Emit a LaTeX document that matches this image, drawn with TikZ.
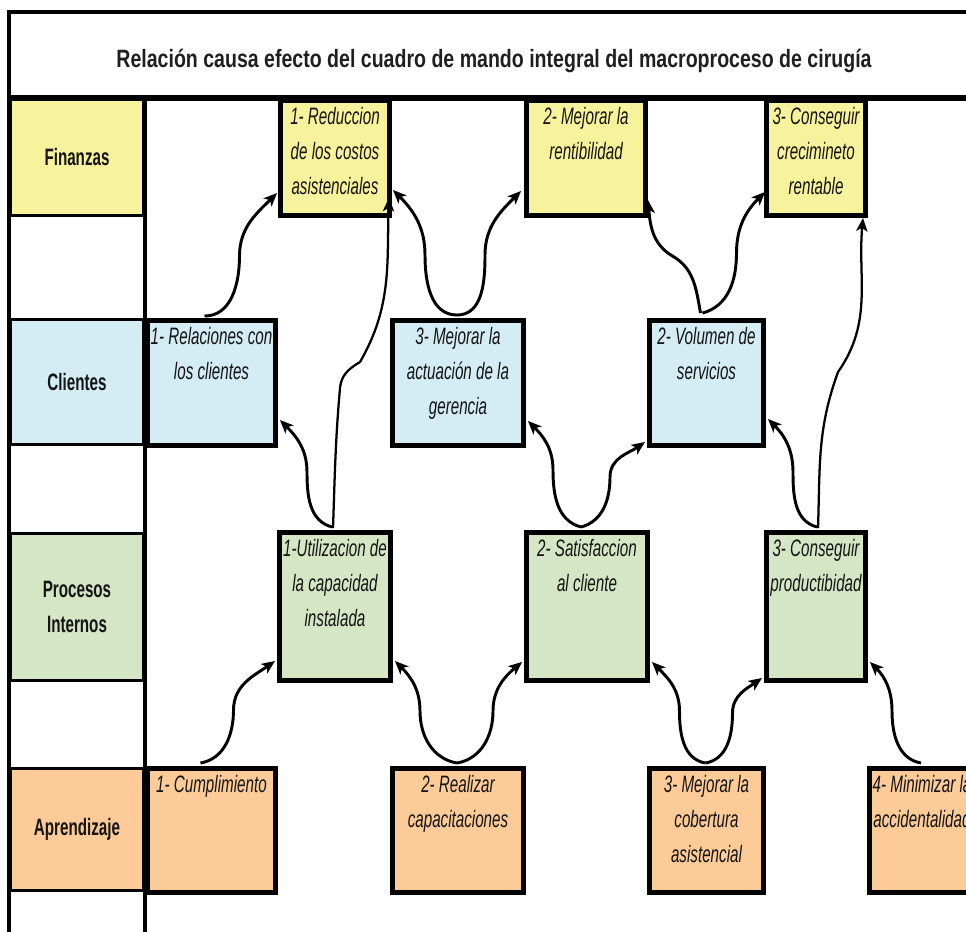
\documentclass[tikz,border=0pt]{standalone}
\usepackage{fontspec}
\setmainfont{Liberation Sans}[FakeStretch=0.64]
\newfontfamily\titlefont{Liberation Sans}[FakeStretch=0.78]
\usetikzlibrary{arrows.meta,calc}
\definecolor{cyel}{HTML}{F7F39C}
\definecolor{cblu}{HTML}{D4ECF3}
\definecolor{cgrn}{HTML}{D5E6C5}
\definecolor{corg}{HTML}{FCCB98}
\definecolor{ink}{HTML}{151515}
\newcommand\mkgoal[7]{%
  \node[gbox, fill=#6, minimum width={(#4-#2-5)*0.75pt}, minimum height={(#5-#3-5)*0.75pt}] (#1) at ({(#2+#4)/2},{(#3+#5)/2}) {};
  \node[gtext, anchor=north] (#1t) at ($(#1.north)+(0,9)$) {#7};}
\begin{document}
\begin{tikzpicture}[x=0.75pt,y=-0.75pt,
  gbox/.style={draw=black, line width=3.7pt, rectangle, inner sep=0pt},
  gtext/.style={inner sep=0pt, align=center, text=ink, font=\fontsize{17.8}{26.25}\selectfont\itshape},
  lcell/.style={draw=black, line width=2.5pt, rectangle, inner sep=0pt, align=center, text=ink, font=\fontsize{17.8}{26.25}\selectfont\bfseries},
  arr/.style={line width=2.2pt, -{Stealth[length=10pt,width=8.5pt,inset=2.5pt]}},
  longarr/.style={arr, line width=1.7pt},
  frame/.style={line width=3pt}
]
\useasboundingbox (0,0) rectangle (966,931);
\clip (0,0) rectangle (966,931);
\fill[white] (0,0) rectangle (966,931);

% title and frame
\node[anchor=base, inner sep=0pt, text=black!88, font=\titlefont\bfseries\fontsize{18.8}{22}\selectfont] (T) at (494,68) {Relación causa efecto del cuadro de mando integral del macroproceso de cirugía};
\draw[frame] (9,12) -- (1000,12);
\draw[line width=4pt] (9,98) -- (1000,98);
\draw[frame] (9,10.5) -- (9,940);
\draw[frame] (145,96) -- (145,940);

% row labels
\node[lcell, fill=cyel, minimum width={133*0.75pt}, minimum height={116*0.75pt}] (LF) at (77,157.5) {Finanzas};
\node[lcell, fill=cblu, minimum width={133*0.75pt}, minimum height={125*0.75pt}] (LC) at (77,382) {Clientes};
\node[lcell, fill=cgrn, minimum width={133*0.75pt}, minimum height={147*0.75pt}] (LP) at (77,607) {Procesos\\Internos};
\node[lcell, fill=corg, minimum width={133*0.75pt}, minimum height={122*0.75pt}] (LA) at (77,829.5) {Aprendizaje};

% goal boxes
\mkgoal{F1}{278}{98}{392}{218}{cyel}{1- Reduccion\\de los costos\\asistenciales}
\mkgoal{F2}{524}{98}{648}{218}{cyel}{2- Mejorar la\\rentibilidad}
\mkgoal{F3}{764}{98}{868}{218}{cyel}{3- Conseguir\\crecimineto\\rentable}
\mkgoal{C1}{145}{318}{278}{448}{cblu}{1- Relaciones con\\los clientes}
\mkgoal{C2}{390}{318}{526}{448}{cblu}{3- Mejorar la\\actuación de la\\gerencia}
\mkgoal{C3}{647}{318}{766}{448}{cblu}{2- Volumen de\\servicios}
\mkgoal{P1}{277}{530}{393}{683}{cgrn}{1-Utilizacion de\\la capacidad\\instalada}
\mkgoal{P2}{524}{530}{650}{683}{cgrn}{2- Satisfaccion\\al cliente}
\mkgoal{P3}{764}{530}{868}{683}{cgrn}{3- Conseguir\\productibidad}
\mkgoal{A1}{145}{766}{278}{895}{corg}{1- Cumplimiento}
\mkgoal{A2}{390}{766}{526}{895}{corg}{2- Realizar\\capacitaciones}
\mkgoal{A3}{647}{766}{766}{895}{corg}{3- Mejorar la\\cobertura\\asistencial}
\mkgoal{A4}{867}{766}{977}{895}{corg}{4- Minimizar la\\accidentalidad}

% arrows to Finanzas
\draw[arr] ($(C1.north)+(-7,-2)$) to[out=0,in=-90] ++(35,-60) to[out=90,in=-135] ($(F1.south west)+(-1,-25)$);
\draw[longarr] ($(P1.north)+(-2,-2)$) to[out=88,in=-95] ++(7,-140) to[out=85,in=-150] ++(20,-26) to[out=60,in=-92] ($(F1.south east)+(-3,-20)$);
\draw[arr] ($(C2.north)+(-1,-3)$) to[out=180,in=-90] ++(-32,-60) to[out=90,in=-45] ($(F1.south east)+(1,-28)$);
\draw[arr] ($(C2.north)+(-1,-3)$) to[out=0,in=-90] ++(28,-60) to[out=90,in=-135] ($(F2.south west)+(-3,-27)$);
\draw[arr] ($(C3.north)+(-6,-5)$) to[out=100,in=-30] ++(-28,-57) to[out=150,in=-85] ($(F2.south east)+(0,-18)$);
\draw[arr] ($(C3.north)+(-4,-5)$) to[out=15,in=-90] ++(34,-60) to[out=90,in=-135] ($(F3.south west)+(1,-26)$);
\draw[longarr] ($(P3.north)+(2,-2)$) to[out=88,in=-110] ++(20,-156) to[out=55,in=-95] ($(F3.south east)+(-5,0)$);

% arrows to Clientes
\draw[arr] ($(P1.north)+(-3,-3)$) to[out=165,in=-90] ++(-25,-55) to[out=90,in=-45] ($(C1.south east)+(2,-28)$);
\draw[arr] ($(P2.north)+(-6,-3)$) to[out=165,in=-90] ++(-28,-57) to[out=90,in=-45] ($(C2.south east)+(2,-27)$);
\draw[arr] ($(P2.north)+(-6,-3)$) to[out=15,in=-90] ++(29,-50) to[out=90,in=-145] ($(C3.south west)+(-2,-6)$);
\draw[arr] ($(P3.north)+(1,-3)$) to[out=165,in=-90] ++(-24,-55) to[out=90,in=-45] ($(C3.south east)+(2,-29)$);

% arrows to Procesos
\draw[arr] ($(A1.north)+(-11,-3)$) to[out=10,in=-90] ++(33,-53) to[out=90,in=-145] ($(P1.south west)+(-2,-22)$);
\draw[arr] ($(A2.north)+(-1,-3)$) to[out=170,in=-90] ++(-37,-52) to[out=90,in=-45] ($(P1.south east)+(2,-22)$);
\draw[arr] ($(A2.north)+(-1,-3)$) to[out=10,in=-90] ++(36,-52) to[out=90,in=-140] ($(P2.south west)+(-2,-21)$);
\draw[arr] ($(A3.north)+(-1,-3)$) to[out=170,in=-90] ++(-26,-52) to[out=90,in=-45] ($(P2.south east)+(2,-21)$);
\draw[arr] ($(A3.north)+(-1,-3)$) to[out=10,in=-90] ++(27,-50) to[out=90,in=-145] ($(P3.south west)+(-2,-5)$);
\draw[arr] ($(A4.north)+(-1,-3)$) to[out=170,in=-90] ++(-29,-52) to[out=90,in=-45] ($(P3.south east)+(2,-21)$);
\end{tikzpicture}
\end{document}
